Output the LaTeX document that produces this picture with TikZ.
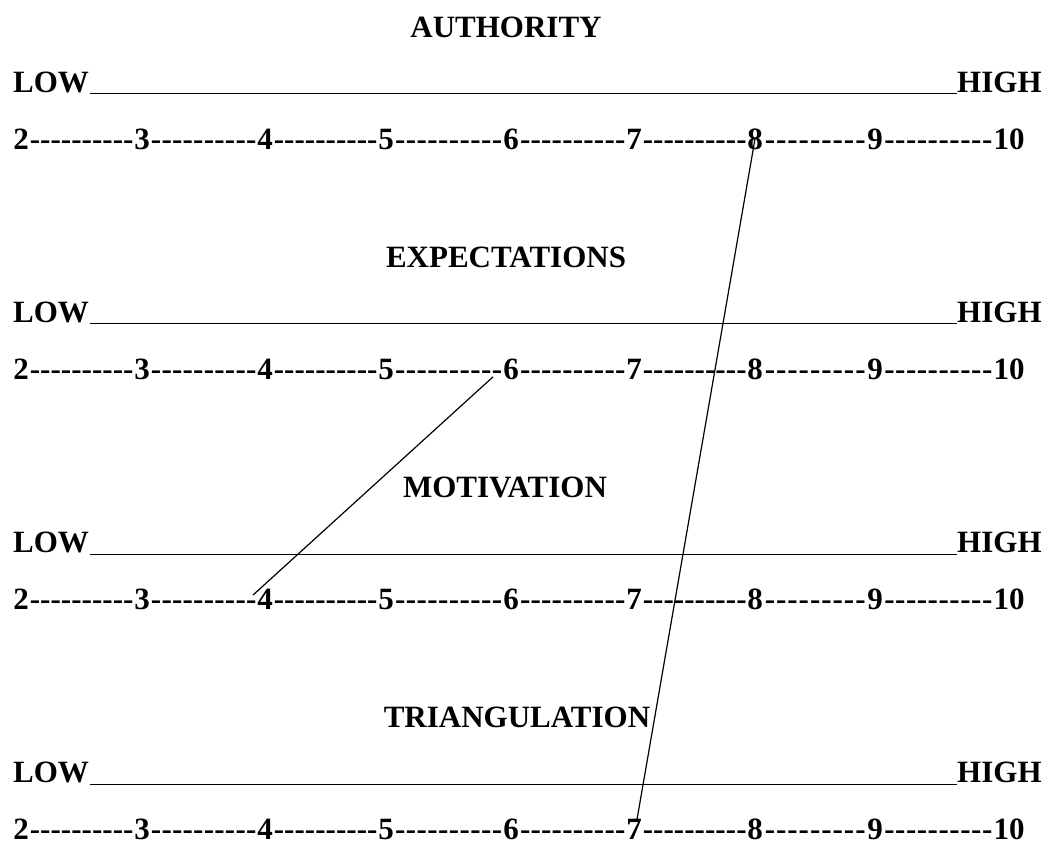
\documentclass[tikz,border=0pt]{standalone}
\usepackage{fontspec}
\setmainfont{Liberation Serif}
\usetikzlibrary{calc}
\begin{document}
\begin{tikzpicture}[x=1pt,y=-1pt,
  txt/.style={inner sep=0pt, font=\fontsize{31}{36}\selectfont\bfseries},
  num/.style={txt, anchor=base},
  rulel/.style={line width=1.1pt},
  link/.style={line width=1.2pt}]
\useasboundingbox (0,0) rectangle (1059,846);
% titles
\node[txt,anchor=base] (t1) at (506,37) {AUTHORITY};
\node[txt,anchor=base] (t2) at (506,267.3) {EXPECTATIONS};
\node[txt,anchor=base] (t3) at (505,497.6) {MOTIVATION};
\node[txt,anchor=base] (t4) at (517,727.9) {TRIANGULATION};
% scales
\foreach \r in {1,2,3,4} {
  \pgfmathsetmacro\yl{92+230.3*(\r-1)}
  \pgfmathsetmacro\yn{149+230.3*(\r-1)}
  \node[txt,anchor=base west] (low\r) at (13,\yl) {LOW};
  \node[txt,anchor=base west] (high\r) at (957,\yl) {HIGH};
  \draw[rulel] ([xshift=0.5pt,yshift=-1.5pt]low\r.base east) -- ([xshift=-0.5pt,yshift=-1.5pt]high\r.base west);
  \foreach \n/\x in {2/21,3/142,4/265,5/386,6/511,7/634,8/755,9/875,10/1009}
    \node[num] (r\r n\n) at (\x,\yn) {\n};
  \foreach \a/\b in {2/3,3/4,4/5,5/6,6/7,7/8,8/9,9/10} {
    \path let \p1=(r\r n\a.east), \p2=(r\r n\b.west) in
      node[txt,anchor=base west] at ([xshift=0.6pt]r\r n\a.base east)
        {\hbox to \dimexpr\x2-\x1-1.2pt\relax{\xleaders\hbox{-}\hfill}};
  }
}
% connectors
\draw[link] (r1n8.center) -- ([xshift=3pt]r4n7.north);
\draw[link] ([xshift=-10pt,yshift=3pt]r2n6.south west) -- ([xshift=-4pt,yshift=-6pt]r3n4.north west);
\end{tikzpicture}
\end{document}
